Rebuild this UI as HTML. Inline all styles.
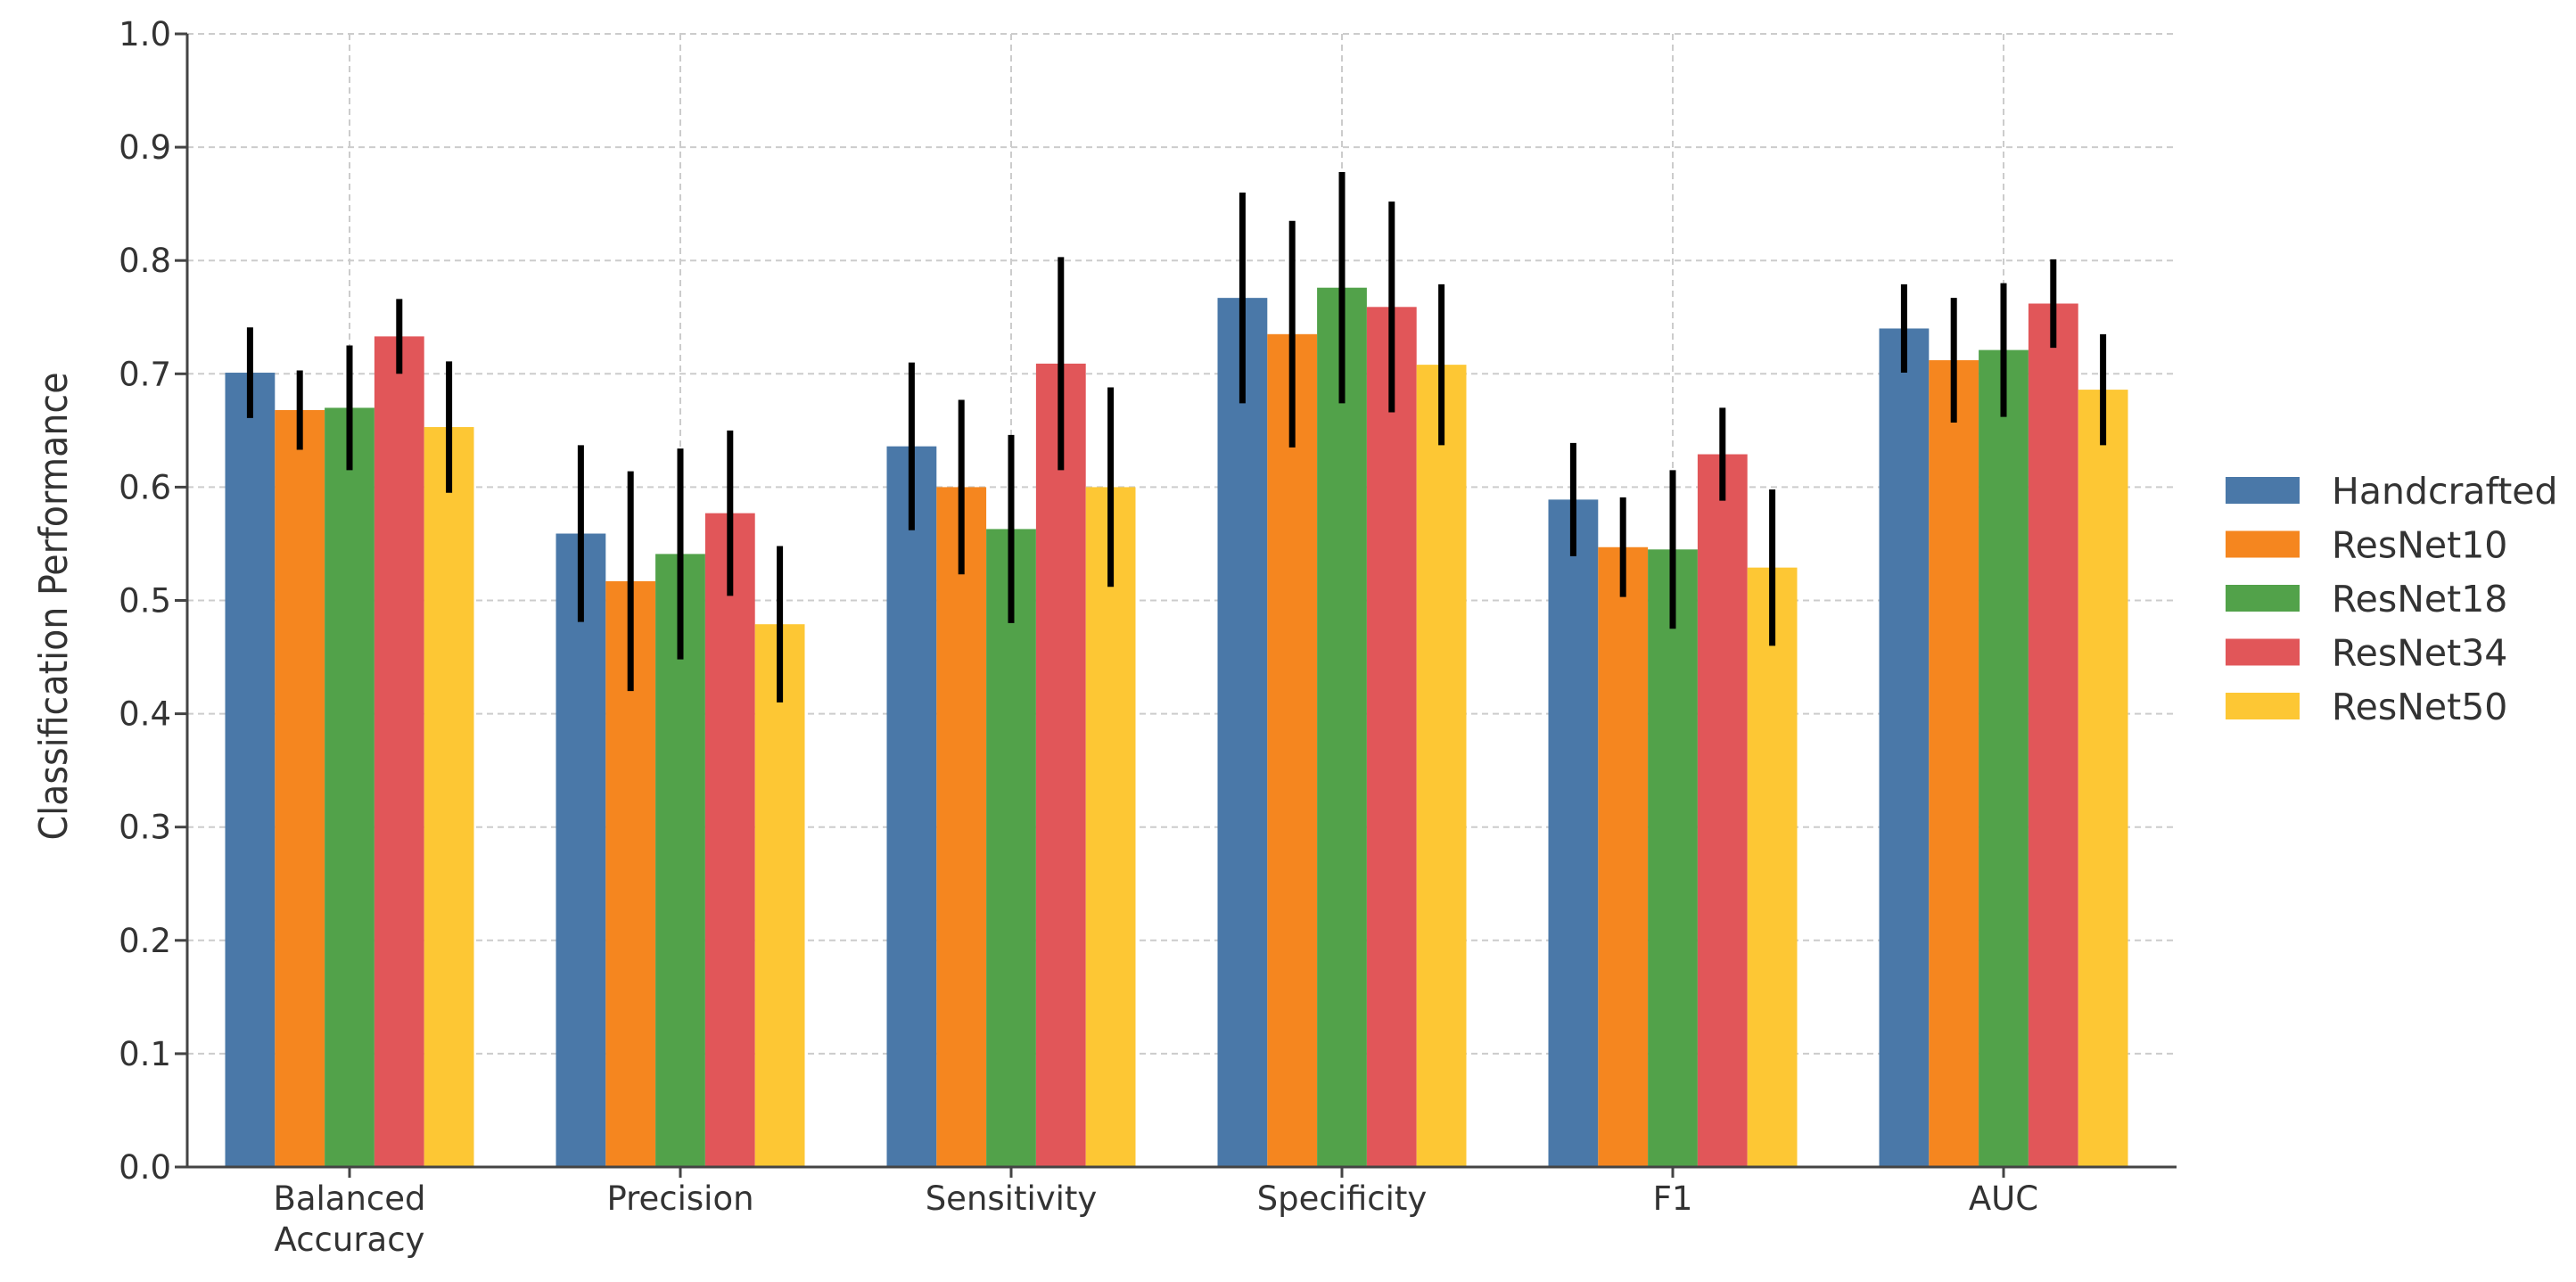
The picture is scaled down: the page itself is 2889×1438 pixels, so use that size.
<!DOCTYPE html>
<html><head><meta charset="utf-8"><style>
html,body{margin:0;padding:0;background:#fff;}
svg{display:block;font-family:"DejaVu Sans","Liberation Sans",sans-serif;}
</style></head><body>
<svg id="chart" width="2889" height="1438" viewBox="0 0 2889 1438" xmlns="http://www.w3.org/2000/svg">
<g id="grid"></g>
<g id="bars"></g>
<g id="errs"></g>
<g id="axes"></g>
<text transform="translate(75,680) rotate(-90)" text-anchor="middle" font-family="'Liberation Sans Narrow','DejaVu Sans Condensed','Liberation Sans',sans-serif" font-size="44" fill="#333">Classification Performance</text>
<g id="legend"></g>
</svg>
<script>
const categories = [["Balanced","Accuracy"],["Precision"],["Sensitivity"],["Specificity"],["F1"],["AUC"]];
const seriesNames = ["Handcrafted","ResNet10","ResNet18","ResNet34","ResNet50"];
const handcrafted = [0.701,0.559,0.636,0.767,0.589,0.740];
const resnet10 = [0.668,0.517,0.600,0.735,0.547,0.712];
const resnet18 = [0.670,0.541,0.563,0.776,0.545,0.721];
const resnet34 = [0.733,0.577,0.709,0.759,0.629,0.762];
const resnet50 = [0.653,0.479,0.600,0.708,0.529,0.686];
const errHandcrafted = [0.040,0.078,0.074,0.093,0.050,0.039];
const errResnet10 = [0.035,0.097,0.077,0.100,0.044,0.055];
const errResnet18 = [0.055,0.093,0.083,0.102,0.070,0.059];
const errResnet34 = [0.033,0.073,0.094,0.093,0.041,0.039];
const errResnet50 = [0.058,0.069,0.088,0.071,0.069,0.049];
const yTicks = [0.0,0.1,0.2,0.3,0.4,0.5,0.6,0.7,0.8,0.9,1.0];

const series = [handcrafted,resnet10,resnet18,resnet34,resnet50];
const errs = [errHandcrafted,errResnet10,errResnet18,errResnet34,errResnet50];
const colors = ["#4a78a8","#f5861f","#52a24a","#e15659","#fdc734"];
const NS="http://www.w3.org/2000/svg";
const L=210,R=2441,T=38,B=1309;
const y=v=>B-(B-T)*v;
const xc=i=>392+i*371;
const bw=55.8;
function mk(tag,attrs,parent){const e=document.createElementNS(NS,tag);for(const k in attrs)e.setAttribute(k,attrs[k]);parent.appendChild(e);return e;}
const grid=document.getElementById('grid'),bars=document.getElementById('bars'),eg=document.getElementById('errs'),axes=document.getElementById('axes'),lg=document.getElementById('legend');
yTicks.forEach(t=>{
  const g=mk('line',{x1:L,x2:R,y1:y(t),y2:y(t),stroke:'#ccc','stroke-width':2,'stroke-dasharray':'7,5'},grid);
  
  
  const tk=mk('line',{x1:L-14,x2:L,y1:y(t),y2:y(t),stroke:'#444','stroke-width':3},axes);
  
  
  const tx=mk('text',{x:L-18,y:y(t)+13,'text-anchor':'end','font-size':37,fill:'#333'},axes);
  tx.textContent=t.toFixed(1);
  
  
});
categories.forEach((c,i)=>{
  const g=mk('line',{x1:xc(i),x2:xc(i),y1:T,y2:B,stroke:'#ccc','stroke-width':2,'stroke-dasharray':'7,5'},grid);
  
  
  const tk=mk('line',{x1:xc(i),x2:xc(i),y1:B,y2:B+12,stroke:'#444','stroke-width':3},axes);
  
  
  c.forEach((ln,j)=>{
    const tx=mk('text',{x:xc(i),y:B+48+j*46,'text-anchor':'middle','font-size':37,fill:'#333'},axes);
    tx.textContent=ln;
    
    
  });
  series.forEach((s,k)=>{
    const cx=xc(i)+(k-2)*bw;
    const r=mk('rect',{x:cx-bw/2,y:y(s[i]),width:bw,height:B-y(s[i]),fill:colors[k]},bars);
    
    
    const e=mk('line',{x1:cx,x2:cx,y1:y(s[i]+errs[k][i]),y2:y(s[i]-errs[k][i]),stroke:'#000','stroke-width':7},eg);
    
    
  });
});
const ax=mk('path',{d:`M${L},${T} V${B} H${R}`,fill:'none',stroke:'#444','stroke-width':3},axes);


seriesNames.forEach((n,k)=>{
  const yy=550+k*60.5;
  const p=mk('rect',{x:2496,y:yy-15,width:83,height:30,fill:colors[k]},lg);
  
  
  const t=mk('text',{x:2615,y:yy+15,'font-size':41,fill:'#333'},lg);
  t.textContent=n;
  
  
});
</script>
</body></html>
